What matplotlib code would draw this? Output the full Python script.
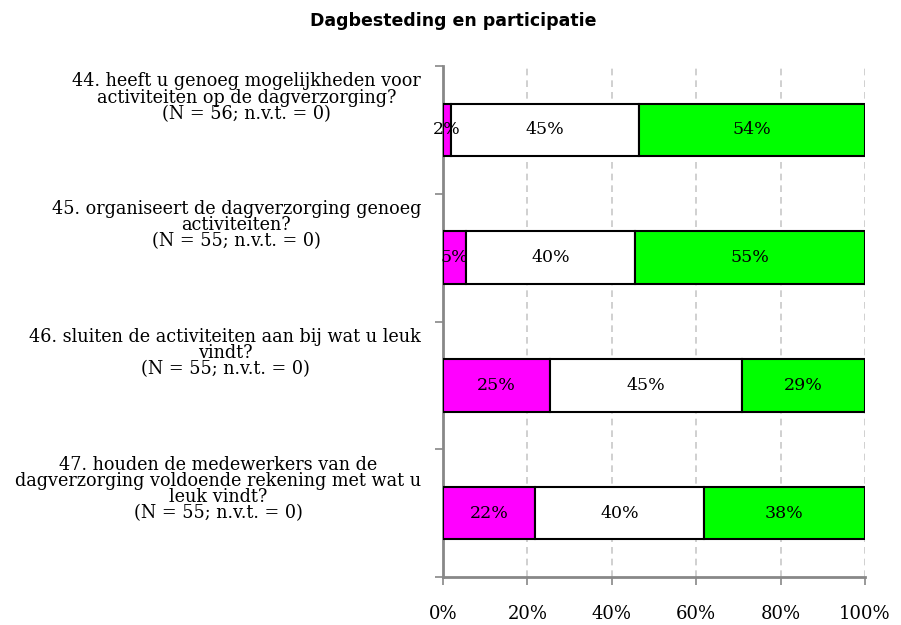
import numpy as np
import matplotlib.pyplot as plt
from matplotlib import transforms

questions = [
    "44. heeft u genoeg mogelijkheden voor\nactiviteiten op de dagverzorging?\n(N = 56; n.v.t. = 0)",
    "45. organiseert de dagverzorging genoeg\nactiviteiten?\n(N = 55; n.v.t. = 0)",
    "46. sluiten de activiteiten aan bij wat u leuk\nvindt?\n(N = 55; n.v.t. = 0)",
    "47. houden de medewerkers van de\ndagverzorging voldoende rekening met wat u\nleuk vindt?\n(N = 55; n.v.t. = 0)",
]
neg = [1.8, 5.45, 25.45, 21.8]
mid = [44.6, 40.0, 45.45, 40.0]
pos = [53.6, 54.55, 29.1, 38.2]
neg_lbl = ["2%", "5%", "25%", "22%"]
mid_lbl = ["45%", "40%", "45%", "40%"]
pos_lbl = ["54%", "55%", "29%", "38%"]

serif = "DejaVu Serif"

fig = plt.figure(figsize=(9.01, 6.25), dpi=100)
ax = fig.add_axes([0.4917, 0.0768, 0.4684, 0.8176])

y = np.arange(len(questions))
h = 0.41
segs = [(neg, "#ff00ff", neg_lbl), (mid, "white", mid_lbl), (pos, "#00ff00", pos_lbl)]
left = np.zeros(len(questions))
for vals, col, lbls in segs:
    vals = np.array(vals)
    ax.barh(y, vals, left=left, height=h, color=col, edgecolor="black", linewidth=1.5, zorder=3)
    for yi, l, v, t in zip(y, left, vals, lbls):
        ax.text(l + v / 2, yi, t, ha="center", va="center", fontsize=12.5,
                family=serif, zorder=4)
    left = left + vals

ax.set_xlim(0, 100)
ax.set_ylim(len(questions) - 0.5, -0.5)
ax.set_xticks(np.arange(0, 101, 20))
ax.set_xticklabels([f"{v}%" for v in range(0, 101, 20)], family=serif, fontsize=13)
ax.tick_params(axis="x", length=6, color="#888888", width=1.2, pad=14)
ax.grid(axis="x", color="#c8c8c8", linestyle=(0, (4, 3)), linewidth=1.2, zorder=0)

ax.set_yticks([])
ax.set_yticks(np.arange(-0.5, len(questions)), minor=True)
ax.tick_params(axis="y", which="minor", length=6, color="#888888", width=1.2)

for s in ["top", "right"]:
    ax.spines[s].set_visible(False)
for s in ["left", "bottom"]:
    ax.spines[s].set_color("#888888")
    ax.spines[s].set_linewidth(2)

trans = transforms.blended_transform_factory(ax.transAxes, ax.transData)
for yi, q in zip(y, questions):
    ax.text(-0.052, yi - 0.45, q, transform=trans, ha="right", va="top",
            multialignment="center", fontsize=12.7, family=serif, linespacing=0.87)

fig.text(0.503, 0.966, "Dagbesteding en participatie", ha="center", va="center",
         fontsize=12.5, fontweight="bold", family="DejaVu Sans")

fig.savefig("out.png", dpi=100)
